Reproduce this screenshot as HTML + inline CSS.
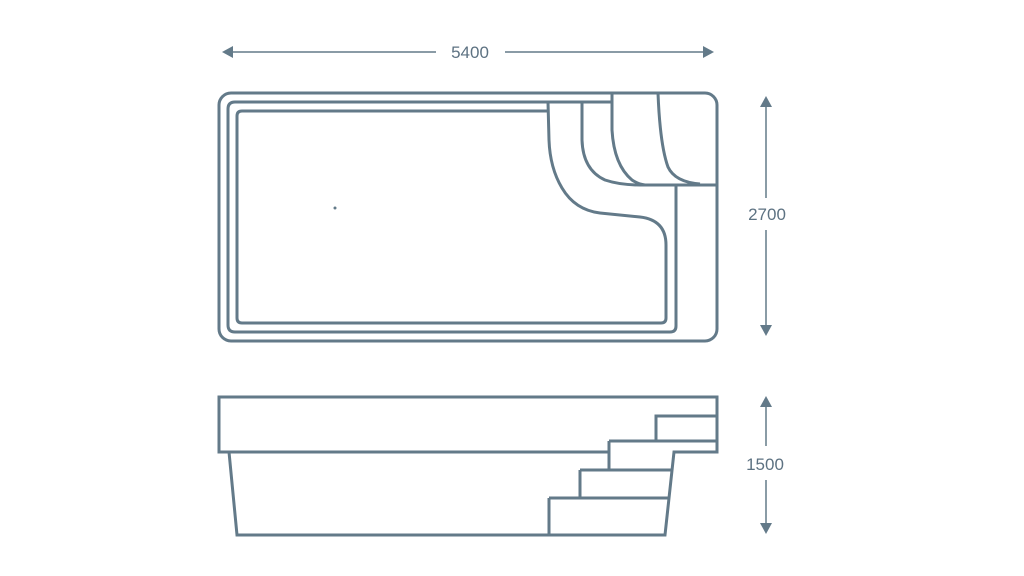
<!DOCTYPE html>
<html><head><meta charset="utf-8"><style>
html,body{margin:0;padding:0;background:#fff;}
svg{display:block}
text{font-family:"Liberation Sans",sans-serif;font-size:17px;fill:#5d7282}
</style></head><body>
<svg width="1024" height="576" viewBox="0 0 1024 576" xmlns="http://www.w3.org/2000/svg">
<g fill="none" stroke="#637a89" stroke-width="3" stroke-linejoin="miter">
<rect x="219" y="93" width="498" height="248" rx="12"/>
<path d="M612,102 H235 Q228,102 228,109 V325 Q228,332 235,332 H670 Q676,332 676,326 V185"/>
<path d="M548,111 H242 Q237,111 237,116 V318 Q237,323 242,323 H661 Q666,323 666,318 V245 Q666,220 640,217 L600,213 Q575,210 562,188 Q550,168 549,140 L548,102"/>
<path d="M582,102 V140 Q583,170 605,180 Q620,185 640,185 H717"/>
<path d="M612,93 V130 Q614,165 632,180 Q638,184 645,185"/>
<path d="M658,93 Q660,145 668,167 Q675,182 700,184"/>
<path d="M219,397 H717 V452 H674 L665,535 H237 L229,452 H219 Z"/>
<path d="M229,452 H609"/>
<path d="M656,441 V416 H717"/>
<path d="M609,441 H717"/>
<path d="M609,441 V470"/>
<path d="M580,470 H671"/>
<path d="M580,470 V498"/>
<path d="M549,498 H668"/>
<path d="M549,498 V535"/>
</g>
<circle cx="335" cy="208" r="1.5" fill="#637a89"/>
<g stroke="#637a89" stroke-width="1.5">
<line x1="228" y1="52" x2="436" y2="52"/><line x1="505" y1="52" x2="708" y2="52"/>
<line x1="766" y1="103" x2="766" y2="198"/><line x1="766" y1="230" x2="766" y2="329"/>
<line x1="766" y1="403" x2="766" y2="446"/><line x1="766" y1="480" x2="766" y2="527"/>
</g>
<g fill="#637a89">
<polygon points="222,52 233,46 233,58"/><polygon points="714,52 703,46 703,58"/>
<polygon points="766,96 760,107 772,107"/><polygon points="766,336 760,325 772,325"/>
<polygon points="766,396 760,407 772,407"/><polygon points="766,534 760,523 772,523"/>
</g>
<text x="470" y="58" text-anchor="middle">5400</text>
<text x="767" y="220" text-anchor="middle">2700</text>
<text x="765" y="470" text-anchor="middle">1500</text>
</svg>
</body></html>
